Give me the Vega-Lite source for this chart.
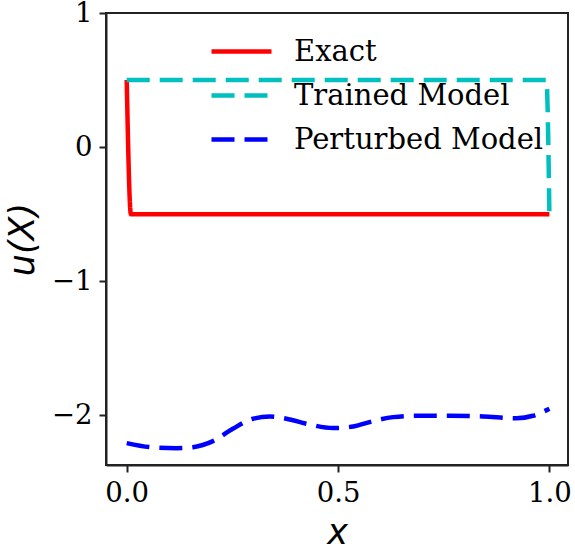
{
  "$schema": "https://vega.github.io/schema/vega-lite/v6.json",
  "width": 462,
  "height": 452,
  "autosize": {"type": "none"},
  "padding": {"left": 106, "top": 13, "right": 7, "bottom": 91},
  "background": "white",
  "data": {
    "values": [
      {"series": "Exact", "x": 0.0, "y": 0.5},
      {"series": "Exact", "x": 0.01, "y": -0.5},
      {"series": "Exact", "x": 1.0, "y": -0.5},
      {"series": "Trained Model", "x": 0.0, "y": 0.5},
      {"series": "Trained Model", "x": 0.993, "y": 0.5},
      {"series": "Trained Model", "x": 1.0, "y": -0.5},
      {"series": "Perturbed Model", "x": 0.0, "y": -2.207},
      {"series": "Perturbed Model", "x": 0.055, "y": -2.237},
      {"series": "Perturbed Model", "x": 0.118, "y": -2.245},
      {"series": "Perturbed Model", "x": 0.157, "y": -2.237},
      {"series": "Perturbed Model", "x": 0.204, "y": -2.192},
      {"series": "Perturbed Model", "x": 0.251, "y": -2.1},
      {"series": "Perturbed Model", "x": 0.299, "y": -2.025},
      {"series": "Perturbed Model", "x": 0.339, "y": -2.008},
      {"series": "Perturbed Model", "x": 0.378, "y": -2.025},
      {"series": "Perturbed Model", "x": 0.426, "y": -2.063},
      {"series": "Perturbed Model", "x": 0.488, "y": -2.095},
      {"series": "Perturbed Model", "x": 0.536, "y": -2.083},
      {"series": "Perturbed Model", "x": 0.583, "y": -2.043},
      {"series": "Perturbed Model", "x": 0.63, "y": -2.013},
      {"series": "Perturbed Model", "x": 0.686, "y": -2.003},
      {"series": "Perturbed Model", "x": 0.764, "y": -2.003},
      {"series": "Perturbed Model", "x": 0.843, "y": -2.008},
      {"series": "Perturbed Model", "x": 0.922, "y": -2.021},
      {"series": "Perturbed Model", "x": 0.961, "y": -2.003},
      {"series": "Perturbed Model", "x": 1.0, "y": -1.951}
    ]
  },
  "mark": {"type": "line", "strokeWidth": 4.5, "interpolate": "monotone", "clip": true},
  "encoding": {
    "x": {
      "field": "x",
      "type": "quantitative",
      "scale": {"domain": [-0.049, 1.044], "nice": false, "zero": false},
      "axis": {
        "values": [0, 0.5, 1],
        "format": ".1f",
        "title": "x",
        "titleX": 231,
        "titleY": 78,
        "titleBaseline": "alphabetic",
        "titleAlign": "center"
      }
    },
    "y": {
      "field": "y",
      "type": "quantitative",
      "scale": {"domain": [-2.37, 1], "nice": false, "zero": false},
      "axis": {
        "values": [1, 0, -1, -2],
        "format": "d",
        "title": "u(X)",
        "titleX": -84,
        "titleY": 226,
        "titleBaseline": "middle",
        "titleAlign": "center",
        "titleAngle": -90
      }
    },
    "color": {
      "field": "series",
      "type": "nominal",
      "scale": {"domain": ["Exact", "Trained Model", "Perturbed Model"], "range": ["#ff0000", "#00bfbf", "#0000ff"]},
      "legend": {"title": null}
    },
    "strokeDash": {
      "field": "series",
      "type": "nominal",
      "scale": {"domain": ["Exact", "Trained Model", "Perturbed Model"], "range": [[1, 0], [23, 10], [23, 10]]},
      "legend": {"title": null}
    }
  },
  "config": {
    "view": {"stroke": "#222222", "strokeWidth": 2},
    "axis": {
      "grid": false,
      "domainColor": "#222222",
      "domainWidth": 2,
      "tickColor": "#222222",
      "tickWidth": 2,
      "tickSize": 7,
      "labelFont": "DejaVu Serif",
      "labelFontSize": 27.5,
      "labelColor": "#000000",
      "labelPadding": 7,
      "labelFlush": false,
      "labelOverlap": false,
      "titleFont": "DejaVu Sans",
      "titleFontSize": 35,
      "titleFontStyle": "italic",
      "titleFontWeight": "normal",
      "titleColor": "#000000"
    },
    "legend": {
      "orient": "none",
      "legendX": 118,
      "legendY": 21,
      "padding": 0,
      "symbolType": "M-2,0H2",
      "symbolSize": 900,
      "symbolStrokeWidth": 4.5,
      "symbolFillColor": "transparent",
      "labelFont": "DejaVu Serif",
      "labelFontSize": 29,
      "labelColor": "#000000",
      "labelOffset": 35,
      "rowPadding": 11,
      "labelLimit": 400
    }
  }
}
